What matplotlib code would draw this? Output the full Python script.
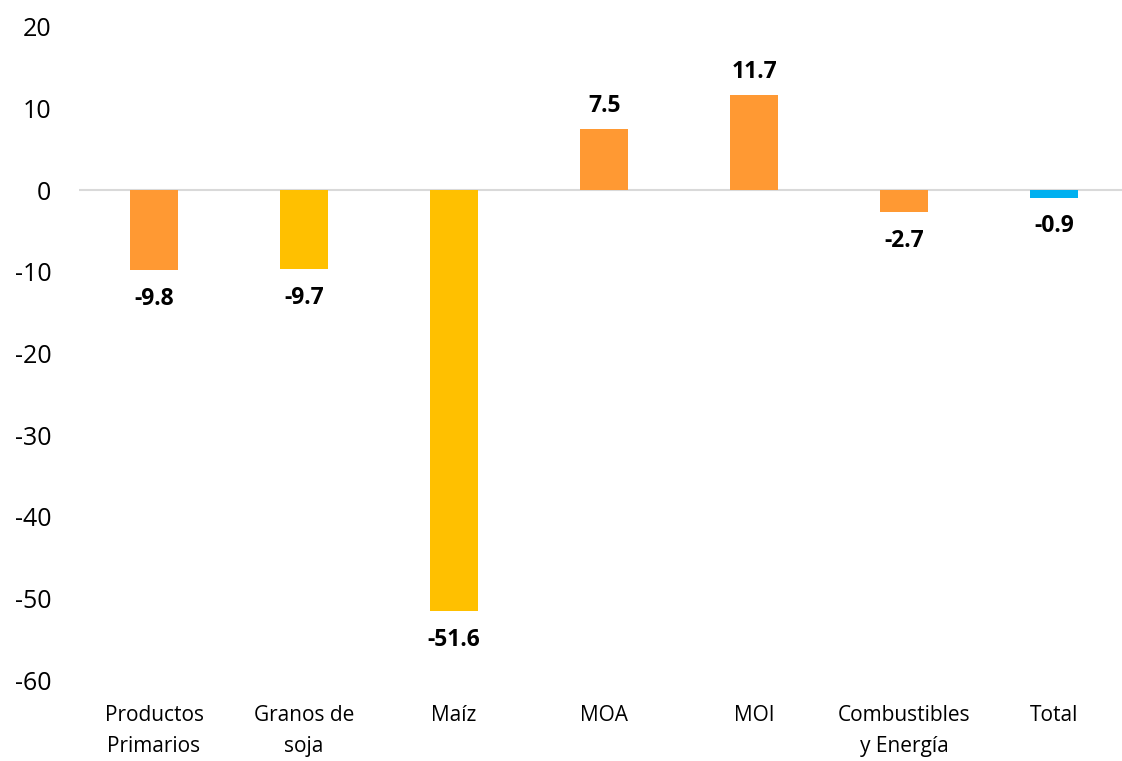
import matplotlib
matplotlib.use("Agg")
import matplotlib.pyplot as plt

CATEGORIES = ["Productos\nPrimarios", "Granos de\nsoja", "Maíz", "MOA", "MOI",
              "Combustibles\ny Energía", "Total"]
VALUES = [-9.8, -9.7, -51.6, 7.5, 11.7, -2.7, -0.9]
COLORS = ["#FF9933", "#FFC000", "#FFC000", "#FF9933", "#FF9933", "#FF9933", "#00B0F0"]

plt.rcParams["font.family"] = ["Open Sans", "DejaVu Sans"]
plt.rcParams["axes.unicode_minus"] = False

fig = plt.figure(figsize=(11.22, 7.61), dpi=100)
ax = fig.add_axes([79 / 1122, 81 / 761, 1043 / 1122, 653 / 761])

x = list(range(len(CATEGORIES)))
ax.bar(x, VALUES, width=0.32, color=COLORS, zorder=2)
ax.axhline(0, color="#D9D9D9", linewidth=1.5, zorder=1)

for xi, v in zip(x, VALUES):
    off = 8 if v >= 0 else -12
    ax.annotate(f"{v:.1f}", (xi, v), xytext=(0, off), textcoords="offset points",
                ha="center", va="bottom" if v >= 0 else "top",
                fontsize=16.5, fontweight="bold", color="black")

ax.set_ylim(-60, 20)
ax.set_xlim(-0.5, 6.45)
ax.set_yticks(range(-60, 21, 10))
ax.set_xticks(x)
ax.set_xticklabels(CATEGORIES, fontsize=15, linespacing=1.6)
ax.tick_params(axis="y", labelsize=18, length=0, pad=20)
ax.tick_params(axis="x", length=0, pad=18)
for s in ax.spines.values():
    s.set_visible(False)

fig.savefig("out.png", dpi=100)
